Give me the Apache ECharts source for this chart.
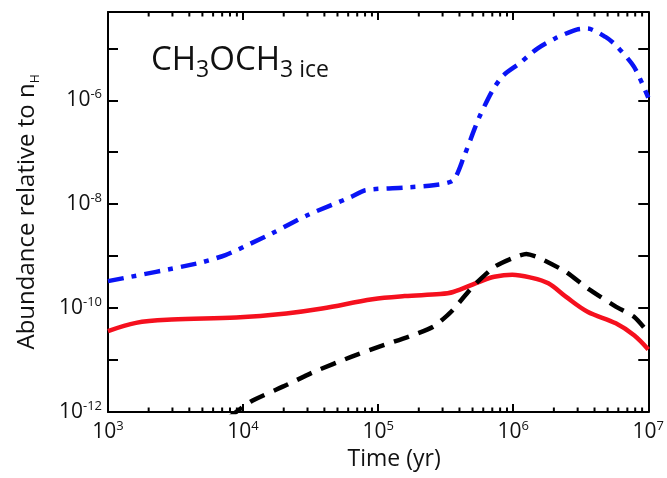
<!DOCTYPE html>
<html>
<head>
<meta charset="utf-8">
<script src="https://cdn.jsdelivr.net/npm/echarts@6/dist/echarts.min.js"></script>
<style>
html,body{margin:0;padding:0;background:#fff;}
#c{width:667px;height:478px;}
</style>
</head>
<body>
<div id="c"></div>
<script>
// Time (yr) and abundance values
const blueTime = [1000, 4550, 7400, 11350, 16400, 30200, 63100, 80400, 157000, 257000, 359000, 431000, 518000, 568000, 703000, 843000, 1.11e6, 1.51e6, 2.04e6, 2.95e6, 3.55e6, 4.82e6, 5.75e6, 7.85e6, 1e7];
const blueVals = [3.3e-10, 7.2e-10, 1.05e-9, 1.74e-9, 2.75e-9, 6.2e-9, 1.38e-8, 1.86e-8, 2.09e-8, 2.32e-8, 2.88e-8, 8.1e-8, 2.85e-7, 5.1e-7, 1.55e-6, 3.0e-6, 5.1e-6, 9.9e-6, 1.55e-5, 2.29e-5, 2.4e-5, 1.66e-5, 1.15e-5, 4.4e-6, 1.12e-6];

const redTime = [1000, 1611, 2965, 8900, 20900, 38500, 90800, 157000, 288000, 359000, 568000, 724000, 984000, 1.33e6, 1.82e6, 2.45e6, 3.55e6, 5.75e6, 7.85e6, 1e7];
const redVals = [3.6e-11, 5.2e-11, 6.0e-11, 6.6e-11, 7.9e-11, 9.8e-11, 1.48e-10, 1.70e-10, 1.86e-10, 2.04e-10, 3.24e-10, 4.0e-10, 4.4e-10, 3.9e-10, 3.0e-10, 1.66e-10, 8.5e-11, 5.1e-11, 3.0e-11, 1.6e-11];

const blackTime = [7900, 11350, 20900, 33900, 63100, 102000, 167000, 257000, 347000, 501000, 724000, 984000, 1.25e6, 1.58e6, 2.45e6, 3.55e6, 5.75e6, 7.85e6, 1e7];
const blackVals = [7.9e-13, 1.58e-12, 3.3e-12, 6.0e-12, 1.15e-11, 1.82e-11, 2.8e-11, 4.4e-11, 8.5e-11, 2.57e-10, 6.2e-10, 9.1e-10, 1.1e-9, 9.1e-10, 5.0e-10, 2.4e-10, 1.07e-10, 6.8e-11, 3.4e-11];

// axis ranges and ticks
const xMin = 1e3, xMax = 1e7;
const yMin = 1e-12, yMax = 5e-5;
const xMinorTicks = [2e3,3e3,4e3,5e3,6e3,7e3,8e3,9e3, 2e4,3e4,4e4,5e4,6e4,7e4,8e4,9e4, 2e5,3e5,4e5,5e5,6e5,7e5,8e5,9e5, 2e6,3e6,4e6,5e6,6e6,7e6,8e6,9e6];
const yLabelExps = [-12, -10, -8, -6];

const titleParts = ['CH', '3', 'OCH', '3 ice'];
const xName = 'Time (yr)';
const yName = 'Abundance relative to n';
const yNameSub = 'H';

const FONT = 'Open Sans';

function zip(a, b) { return a.map((v, i) => [v, b[i]]); }
function expOf(v) { return Math.round(Math.log10(v)); }
function isPow10(v) { const e = Math.log10(v); return Math.abs(e - Math.round(e)) < 1e-6; }

const richTick = {
  b: { fontFamily: FONT, fontSize: 21, color: '#111', lineHeight: 24 },
  e: { fontFamily: FONT, fontSize: 13, color: '#111', verticalAlign: 'top', lineHeight: 14 }
};

const axisCommon = {
  type: 'log',
  logBase: 10,
  axisLine: { lineStyle: { color: '#000', width: 2 } },
  splitLine: { show: false },
  minorTick: { show: false },
  minorSplitLine: { show: false }
};

const chart = echarts.init(document.getElementById('c'), null, { renderer: 'canvas' });

chart.setOption({
  animation: false,
  backgroundColor: '#fff',
  title: {
    text: '{m|' + titleParts[0] + '}{s|' + titleParts[1] + '}{m|' + titleParts[2] + '}{s|' + titleParts[3] + '}',
    left: 146, top: 35,
    textStyle: {
      fontWeight: 'normal',
      rich: {
        m: { fontFamily: FONT, fontSize: 33, fontWeight: 'normal', color: '#111', lineHeight: 42 },
        s: { fontFamily: FONT, fontSize: 23, fontWeight: 'normal', color: '#111', verticalAlign: 'bottom', lineHeight: 32 }
      }
    }
  },
  grid: { left: 108, right: 14, top: 12, bottom: 66, containLabel: false },
  xAxis: [
    Object.assign({}, axisCommon, {
      min: xMin, max: xMax, splitNumber: 4, position: 'bottom',
      name: xName, nameLocation: 'middle', nameGap: 36,
      nameTextStyle: { fontFamily: FONT, fontSize: 23, color: '#111', padding: [0, 0, 0, 32] },
      axisTick: { inside: true, length: 8, lineStyle: { color: '#000', width: 2 } },
      axisLabel: {
        margin: 8,
        formatter: v => isPow10(v) ? '{b|10}{e|' + expOf(v) + '}' : '',
        rich: richTick
      }
    }),
    Object.assign({}, axisCommon, {
      min: xMin, max: xMax, splitNumber: 4, position: 'top',
      axisTick: { inside: true, length: 8, lineStyle: { color: '#000', width: 2 } },
      axisLabel: { show: false }
    })
  ],
  yAxis: [
    Object.assign({}, axisCommon, {
      min: yMin, max: yMax, splitNumber: 8, position: 'left',
      name: '{a|' + yName + '}{h|' + yNameSub + '}', nameLocation: 'middle', nameGap: 66, nameRotate: 90,
      nameTextStyle: {
        rich: {
          a: { fontFamily: FONT, fontSize: 24, color: '#111', lineHeight: 30 },
          h: { fontFamily: FONT, fontSize: 12, color: '#111', verticalAlign: 'bottom', lineHeight: 24 }
        }
      },
      axisTick: { inside: true, length: 10, lineStyle: { color: '#000', width: 2 } },
      axisLabel: {
        margin: 6,
        formatter: v => (isPow10(v) && yLabelExps.indexOf(expOf(v)) >= 0) ? '{b|10}{e|' + expOf(v) + '}' : '',
        rich: richTick
      }
    }),
    Object.assign({}, axisCommon, {
      min: yMin, max: yMax, splitNumber: 8, position: 'right',
      axisTick: { inside: true, length: 10, lineStyle: { color: '#000', width: 2 } },
      axisLabel: { show: false }
    })
  ],
  series: [
    {
      type: 'line', name: 'blue', data: zip(blueTime, blueVals),
      xAxisIndex: 0, yAxisIndex: 0, showSymbol: false, smooth: 0.25,
      lineStyle: { color: '#0a14f5', width: 4.5, type: [16, 8, 5, 8], cap: 'butt' }
    },
    {
      type: 'line', name: 'red', data: zip(redTime, redVals),
      xAxisIndex: 0, yAxisIndex: 0, showSymbol: false, smooth: 0.35,
      lineStyle: { color: '#f5101e', width: 4.5 }
    },
    {
      type: 'line', name: 'black', data: zip(blackTime, blackVals),
      xAxisIndex: 0, yAxisIndex: 0, showSymbol: false, smooth: 0.2,
      lineStyle: { color: '#000', width: 4.5, type: [16, 10], cap: 'butt' }
    },
    {
      type: 'custom', name: 'minorTicks', xAxisIndex: 0, yAxisIndex: 0,
      data: xMinorTicks.map(t => [t, yMin]),
      clip: false, silent: true, z: 10,
      renderItem: function (params, api) {
        const t = api.value(0);
        const b = api.coord([t, yMin]);
        const tp = api.coord([t, yMax]);
        const len = 4.5;
        return {
          type: 'group',
          children: [
            { type: 'line', shape: { x1: b[0], y1: b[1], x2: b[0], y2: b[1] - len }, style: { stroke: '#000', lineWidth: 2 } },
            { type: 'line', shape: { x1: tp[0], y1: tp[1], x2: tp[0], y2: tp[1] + len }, style: { stroke: '#000', lineWidth: 2 } }
          ]
        };
      }
    }
  ]
});
</script>
</body>
</html>
